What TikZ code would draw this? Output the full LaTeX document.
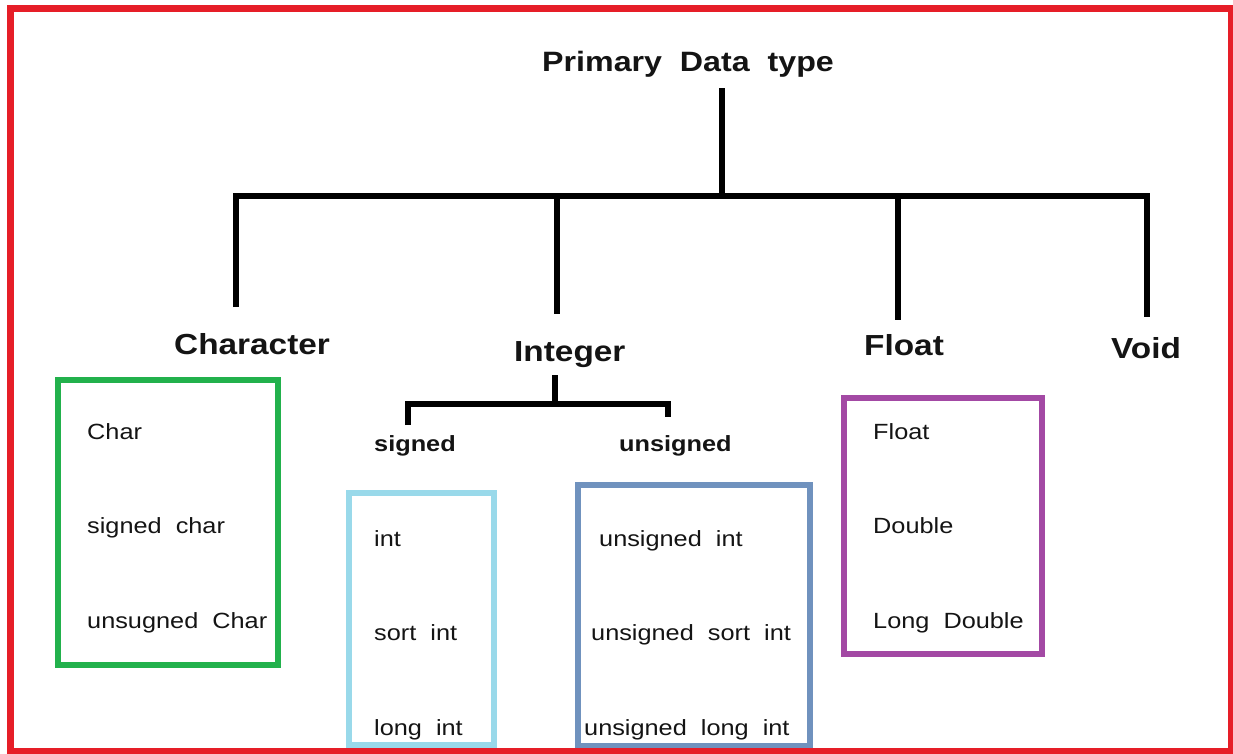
\documentclass[tikz,border=0pt]{standalone}
\usepackage{fontspec}
\setmainfont{Liberation Sans}[FakeStretch=1.15]
\definecolor{framered}{RGB}{230,30,40}
\definecolor{boxgreen}{RGB}{34,177,76}
\definecolor{boxlightblue}{RGB}{153,217,234}
\definecolor{boxsteel}{RGB}{112,146,190}
\definecolor{boxpurple}{RGB}{163,73,164}
\definecolor{inktext}{RGB}{20,20,20}
\tikzset{
  hdr/.style={font=\fontsize{29}{34}\selectfont\bfseries, anchor=base west, inner sep=0pt, text=inktext},
  subhdr/.style={font=\fontsize{22}{26}\selectfont\bfseries, anchor=base west, inner sep=0pt, text=inktext},
  item/.style={font=\fontsize{22}{26}\selectfont, anchor=base west, inner sep=0pt, text=inktext},
  treeline/.style={line width=6.5pt, black, line join=miter},
  groupbox/.style={draw, line width=6.5pt, inner sep=0pt, fill=none}
}
\begin{document}
\begin{tikzpicture}[x=1pt,y=-1pt]
\useasboundingbox (0,0) rectangle (1233,753);
\fill[white] (0,0) rectangle (1233,753);

% headers
\node[hdr, font=\fontsize{28}{33}\selectfont\bfseries] (title) at (542,71) {Primary\ \ Data\ \ type};
\node[hdr] (character) at (174,354) {Character};
\node[hdr] (integer) at (514,361) {Integer};
\node[hdr] (float) at (864,355) {Float};
\node[hdr] (void) at (1111,358) {Void};
\node[subhdr] (signed) at (374,451) {signed};
\node[subhdr] (unsigned) at (619,451) {unsigned};

% tree coordinates
\coordinate (t0) at (722,88);
\coordinate (bus) at (722,196);
\coordinate (cTop) at (236,196);
\coordinate (cEnd) at (236,307);
\coordinate (iTop) at (557,196);
\coordinate (iEnd) at (557,314);
\coordinate (fTop) at (898,196);
\coordinate (fEnd) at (898,320);
\coordinate (vTop) at (1147,196);
\coordinate (vEnd) at (1147,317);

\draw[treeline] (t0) -- (bus);
\draw[treeline] (cEnd) -- (cTop) -- (vTop) -- (vEnd);
\draw[treeline] (iTop) -- (iEnd);
\draw[treeline] (fTop) -- (fEnd);

% integer subtree
\coordinate (s0) at (555,375);
\coordinate (sbus) at (555,404);
\coordinate (sgTop) at (408,404);
\coordinate (sgEnd) at (408,425);
\coordinate (usTop) at (668,404);
\coordinate (usEnd) at (668,417);
\draw[treeline] (s0) -- (sbus);
\draw[treeline] (sgEnd) -- (sgTop) -- (usTop) -- (usEnd);

% boxes
\node[groupbox, draw=boxgreen, minimum width=220pt, minimum height=285pt] (charbox) at (168,522.5) {};
\node[groupbox, draw=boxlightblue, minimum width=145pt, minimum height=252pt] (signedbox) at (421.5,619) {};
\node[groupbox, draw=boxsteel, minimum width=232pt, minimum height=261pt] (unsignedbox) at (694,615.5) {};
\node[groupbox, draw=boxpurple, minimum width=198pt, minimum height=256pt] (floatbox) at (943,526) {};

% items
\node[item] (char1) at (87,439) {Char};
\node[item] (char2) at (87,533) {signed\ \ char};
\node[item] (char3) at (87,628) {unsugned\ \ Char};

\node[item] (int1) at (374,546) {int};
\node[item] (int2) at (374,640) {sort\ \ int};
\node[item] (int3) at (374,735) {long\ \ int};

\node[item] (uint1) at (599,546) {unsigned\ \ int};
\node[item] (uint2) at (591,640) {unsigned\ \ sort\ \ int};
\node[item] (uint3) at (584,735) {unsigned\ \ long\ \ int};

\node[item] (fl1) at (873,439) {Float};
\node[item] (fl2) at (873,533) {Double};
\node[item] (fl3) at (873,628) {Long\ \ Double};

% red frame
\draw[framered, line width=6.5pt] (10.5,8.5) rectangle (1231,751);
\end{tikzpicture}
\end{document}
